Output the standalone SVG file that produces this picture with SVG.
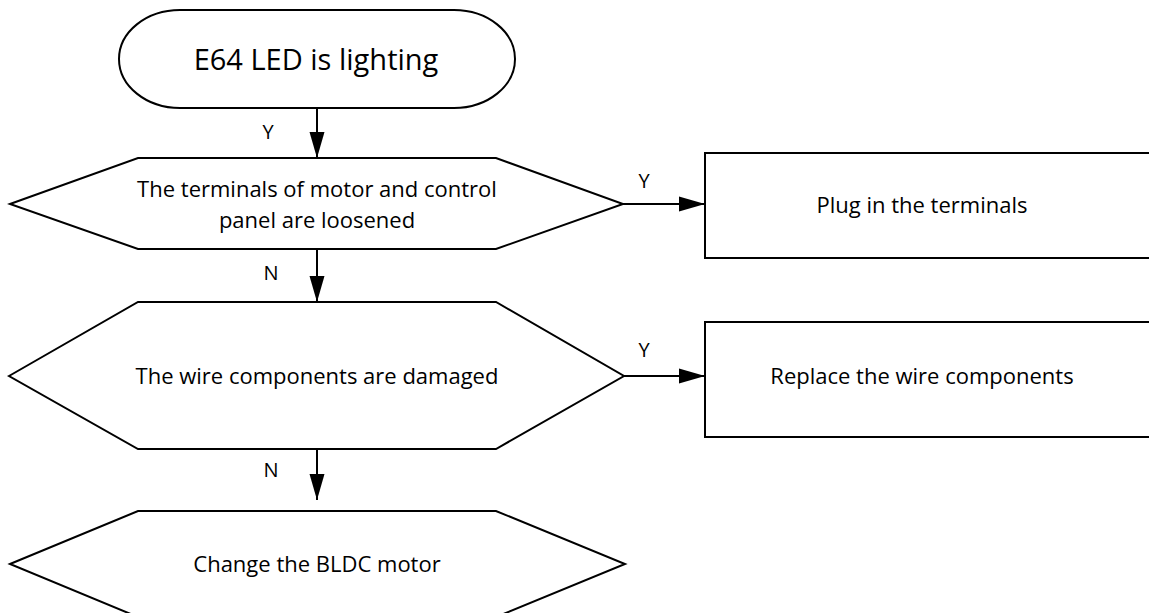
<svg xmlns="http://www.w3.org/2000/svg" width="1149" height="613" viewBox="0 0 1149 613">
<defs>
<style>
.shape{fill:#ffffff;stroke:#000000;stroke-width:2;stroke-linejoin:miter}
.conn{fill:none;stroke:#000000;stroke-width:2}
.t{font-family:"Open Sans","Segoe UI","Liberation Sans",sans-serif;font-size:22px;fill:#000000;text-anchor:middle}
.big{font-size:29px}
.lbl{font-family:"Open Sans","Liberation Sans",sans-serif;font-size:20px;fill:#000000;text-anchor:middle}
</style>
<marker id="arr" markerUnits="userSpaceOnUse" markerWidth="27" markerHeight="16" refX="26" refY="8" orient="auto">
<path d="M0,0.5 L26,8 L0,15.5 z" fill="#000000"/>
</marker>
</defs>
<rect width="1149" height="613" fill="#ffffff"/>
<g id="connectors">
<line class="conn" x1="317" y1="108" x2="317" y2="158" marker-end="url(#arr)"/>
<line class="conn" x1="623" y1="204" x2="705" y2="204" marker-end="url(#arr)"/>
<line class="conn" x1="317" y1="249" x2="317" y2="302" marker-end="url(#arr)"/>
<line class="conn" x1="624" y1="376" x2="705" y2="376" marker-end="url(#arr)"/>
<line class="conn" x1="317" y1="449" x2="317" y2="500" marker-end="url(#arr)"/>
<text class="lbl" x="268" y="139">Y</text>
<text class="lbl" x="644" y="188">Y</text>
<text class="lbl" x="271" y="280">N</text>
<text class="lbl" x="644" y="357">Y</text>
<text class="lbl" x="271" y="477">N</text>
</g>
<g id="start">
<rect class="shape" x="119" y="10" width="396" height="98" rx="61" ry="49"/>
<text class="t big" x="316" y="70">E64 LED is lighting</text>
</g>
<g id="decision1">
<polygon class="shape" points="10,204 138,158 496,158 623,204 496,249 138,249"/>
<text class="t" x="317" y="197">The terminals of motor and control</text>
<text class="t" x="317" y="228">panel are loosened</text>
</g>
<g id="action1">
<rect class="shape" x="705" y="153" width="460" height="105"/>
<text class="t" x="922" y="213">Plug in the terminals</text>
</g>
<g id="decision2">
<polygon class="shape" points="9,376 138,302 496,302 624,376 496,449 138,449"/>
<text class="t" x="317" y="384">The wire components are damaged</text>
</g>
<g id="action2">
<rect class="shape" x="705" y="322" width="460" height="115"/>
<text class="t" x="922" y="384">Replace the wire components</text>
</g>
<g id="decision3">
<polygon class="shape" points="10,564 138,511 496,511 625,564 496,617 138,617"/>
<text class="t" x="317" y="572">Change the BLDC motor</text>
</g>
</svg>
